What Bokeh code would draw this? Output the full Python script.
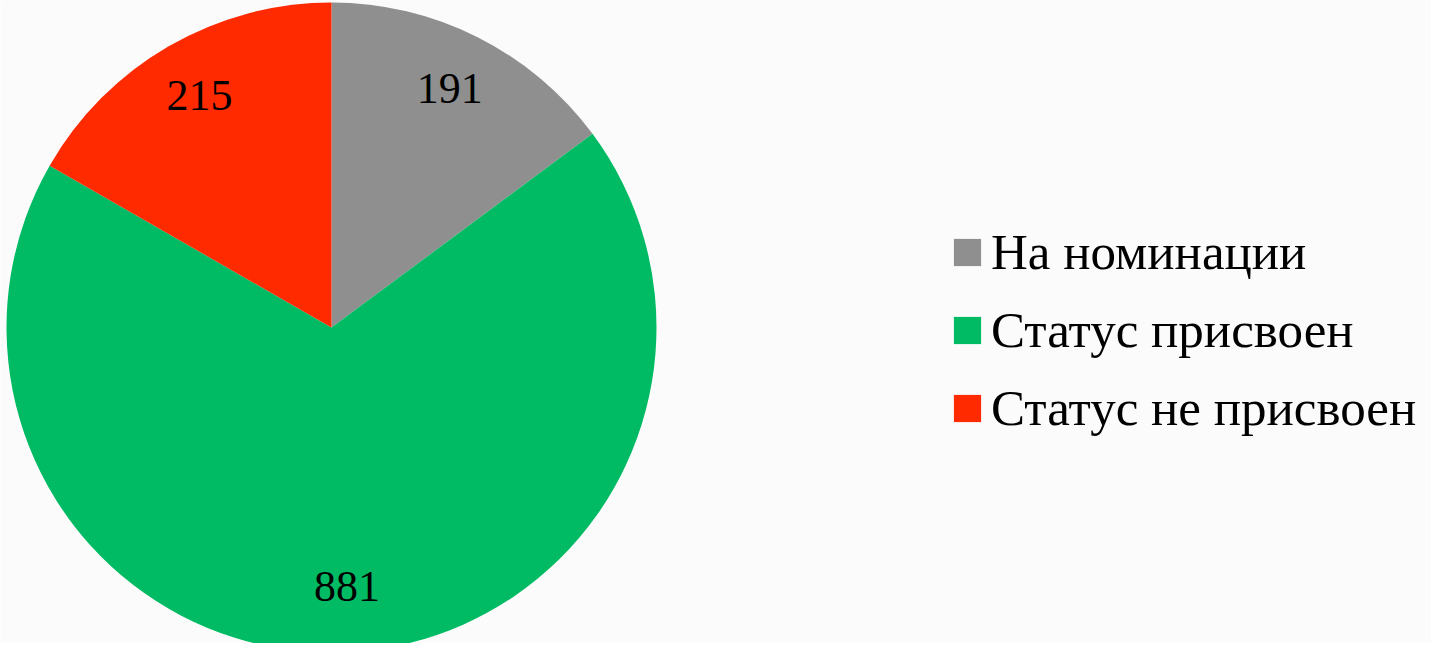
import numpy as np
from bokeh.plotting import figure
from bokeh.models import ColumnDataSource, Legend, LegendItem
from bokeh.core.properties import value
from bokeh.embed import file_html
from bokeh.resources import INLINE

categories = ["На номинации", "Статус присвоен", "Статус не присвоен"]
counts = [191, 881, 215]
colors = ["#8f8f8f", "#00bb64", "#ff2a00"]

W, H = 1431, 643
CX, CY, R = 331, 316, 325

total = float(sum(counts))
frac = np.array(counts) / total
cum = np.concatenate([[0.0], np.cumsum(frac)])
start = np.pi / 2 - 2 * np.pi * cum[:-1]
end = np.pi / 2 - 2 * np.pi * cum[1:]
mid = (start + end) / 2

src = ColumnDataSource(dict(
    cat=categories, val=counts, color=colors,
    start=start, end=end,
    lx=CX + 0.81 * R * np.cos(mid),
    ly=CY + 0.81 * R * np.sin(mid) + 4,
    label=[str(c) for c in counts],
))

p = figure(width=W, height=H, x_range=(0, W), y_range=(0, H),
           output_backend="svg", toolbar_location=None, min_border=0)
p.axis.visible = False
p.grid.visible = False
p.outline_line_color = None
p.background_fill_color = "#fbfbfb"
p.border_fill_color = "#fbfbfb"

r = p.wedge(x=CX, y=CY, radius=R, start_angle="start", end_angle="end",
            direction="clock", fill_color="color", line_color=None, source=src)

p.text(x="lx", y="ly", text="label", source=src, text_align="center",
       text_baseline="middle", text_font=value("Liberation Serif"),
       text_font_size="44px", text_color="#000000")

items = [LegendItem(label=categories[i], renderers=[r], index=i) for i in range(3)]
legend = Legend(items=items, location=(950, 206), orientation="vertical",
                glyph_width=34, glyph_height=34, label_standoff=7, spacing=20,
                padding=0, margin=0, border_line_color=None,
                background_fill_alpha=0,
                label_text_font="Liberation Serif", label_text_font_size="51px",
                label_text_color="#000000")
p.add_layout(legend)

open("out.html", "w").write(file_html(p, INLINE))
